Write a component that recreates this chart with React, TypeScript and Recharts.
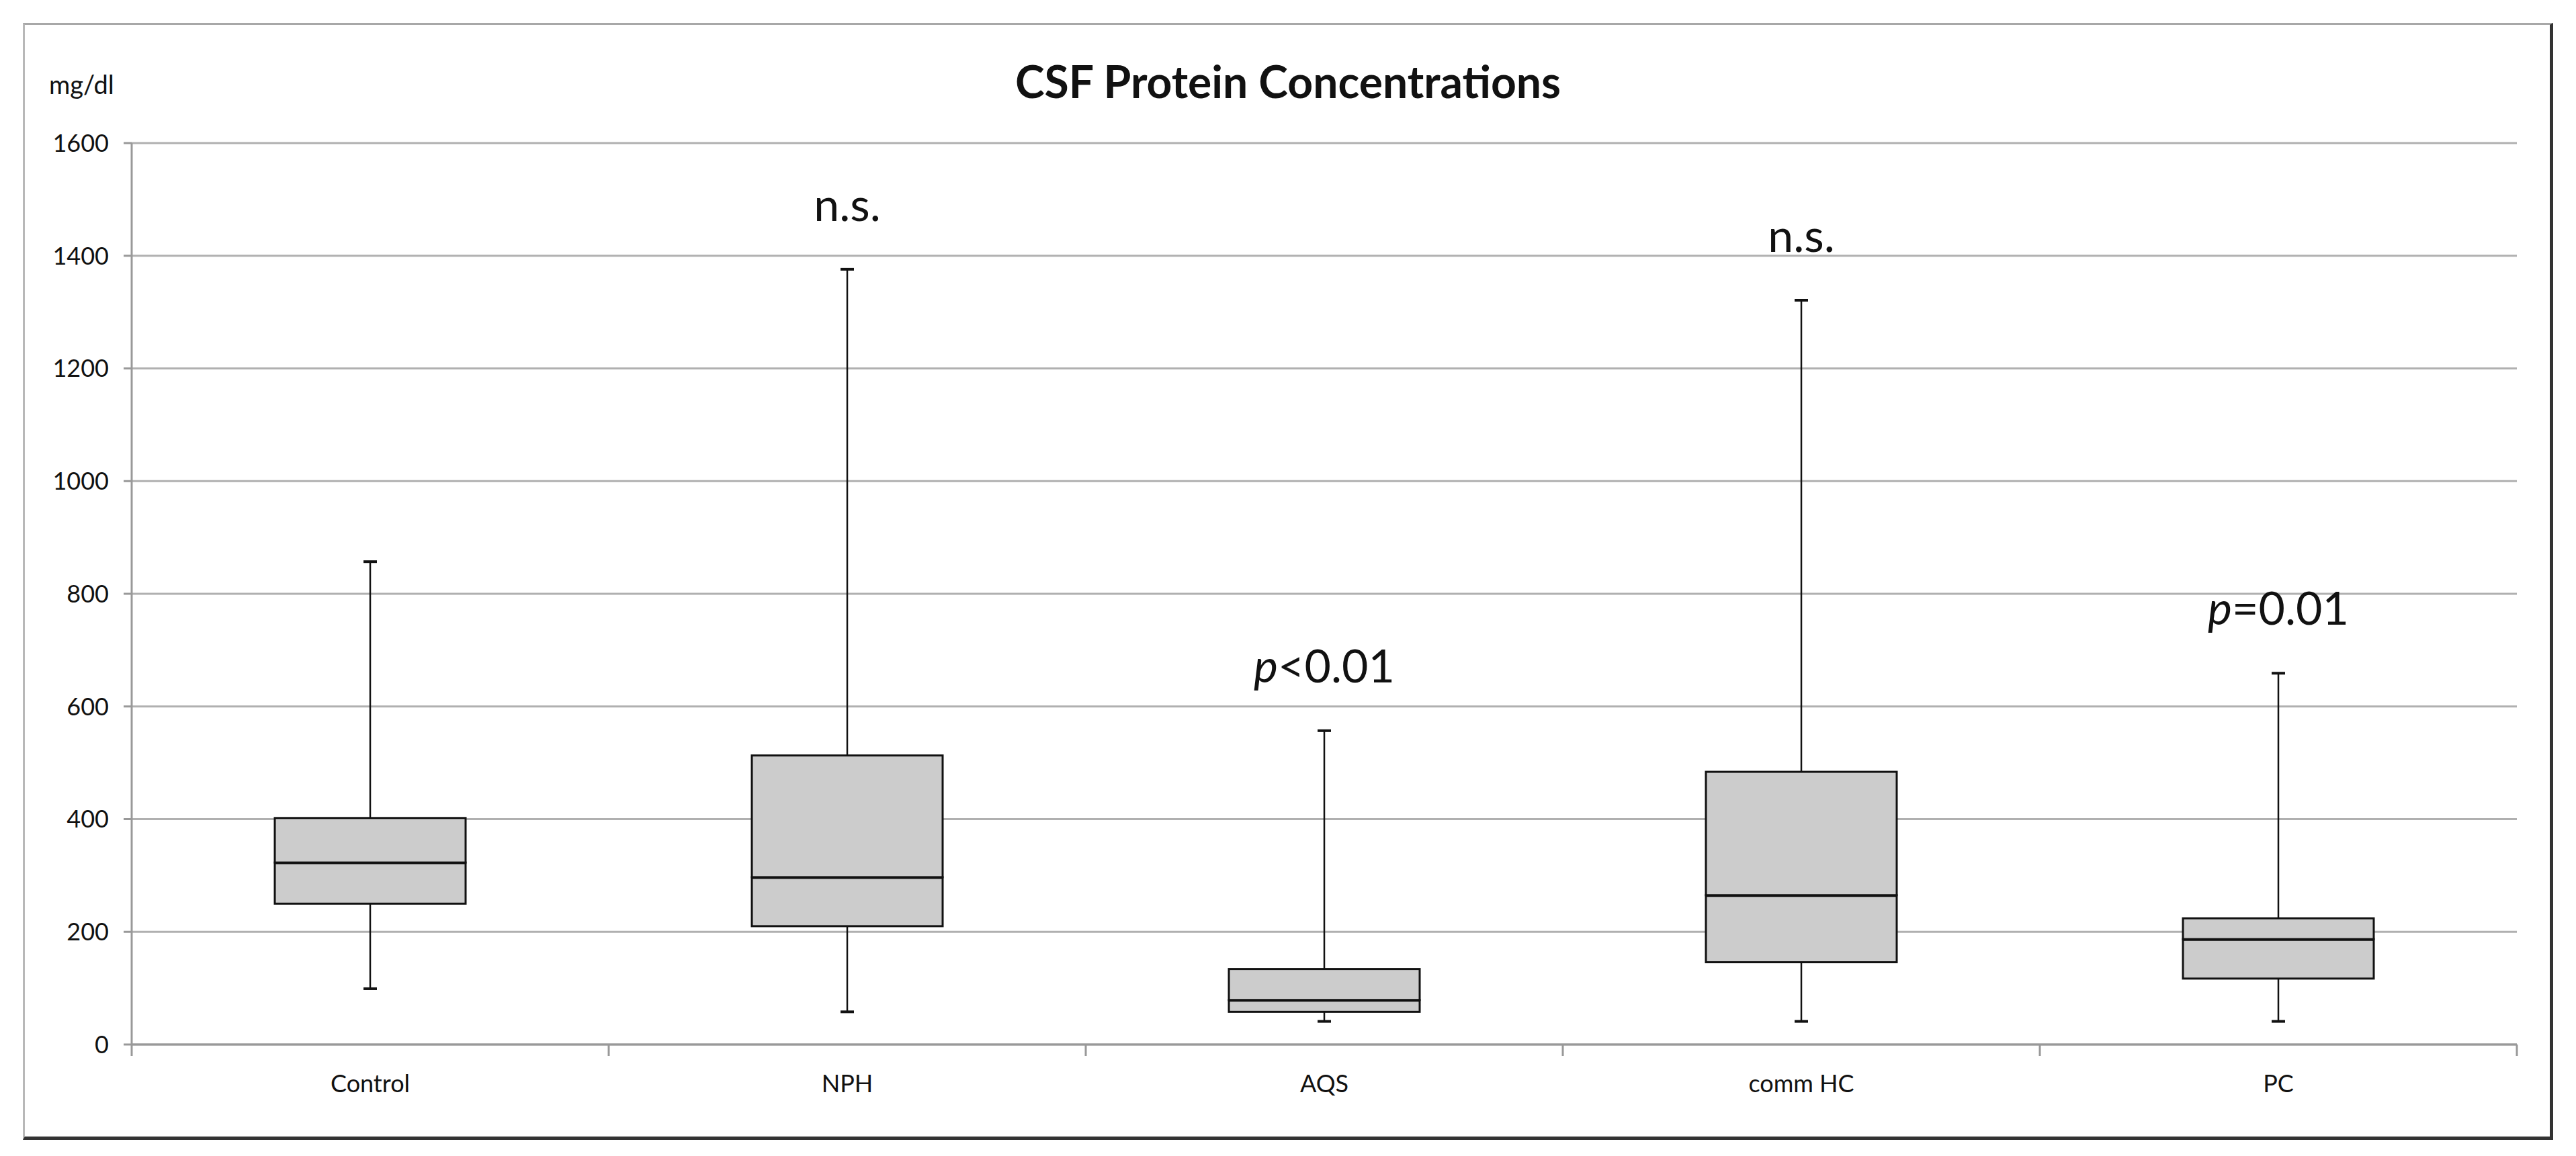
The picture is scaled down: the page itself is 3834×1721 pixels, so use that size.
import { ComposedChart, Bar, XAxis, YAxis, CartesianGrid, LabelList } from "recharts";

const categories = ["Control", "NPH", "AQS", "comm HC", "PC"];
const minimums = [99, 58, 41, 41, 41];
const lowerQuartiles = [250, 210, 58, 146, 117];
const medians = [323, 297, 79, 265, 187];
const upperQuartiles = [402, 513, 134, 484, 224];
const maximums = [857, 1376, 557, 1321, 659];
const annotations = ["", "n.s.", "p<0.01", "n.s.", "p=0.01"];
const yTicks = [0, 200, 400, 600, 800, 1000, 1200, 1400, 1600];

// stacked segments: invisible base, lower whisker, two box halves, upper whisker
const data = categories.map((name, i) => ({
  name,
  base: minimums[i],
  lowWhisker: lowerQuartiles[i] - minimums[i],
  lowBox: medians[i] - lowerQuartiles[i],
  highBox: upperQuartiles[i] - medians[i],
  highWhisker: maximums[i] - upperQuartiles[i],
  note: annotations[i],
}));

const W = 3834;
const H = 1721;
const MARGIN = { top: 213, right: 88, bottom: 66, left: 0 };
const Y_WIDTH = 196;
const X_TICK_SIZE = 17;
const X_TICK_MARGIN = 28;
const FONT = "Lato, 'Open Sans', sans-serif";
const CAP = 10;

const LowWhisker = (props: any) => {
  const { x, y, width, height } = props;
  const cx = x + width / 2;
  const bottom = y + height;
  return (
    <g stroke="#111" strokeWidth={2.5}>
      <line x1={cx} x2={cx} y1={y} y2={bottom} />
      <line x1={cx - CAP} x2={cx + CAP} y1={bottom} y2={bottom} strokeWidth={4} />
    </g>
  );
};

const HighWhisker = (props: any) => {
  const { x, y, width, height } = props;
  const cx = x + width / 2;
  return (
    <g stroke="#111" strokeWidth={2.5}>
      <line x1={cx} x2={cx} y1={y} y2={y + height} />
      <line x1={cx - CAP} x2={cx + CAP} y1={y} y2={y} strokeWidth={4} />
    </g>
  );
};

const LowBox = (props: any) => {
  const { x, y, width, height } = props;
  return (
    <g>
      <rect x={x} y={y} width={width} height={height} fill="#cccccc" stroke="#111" strokeWidth={3} />
      <line x1={x} x2={x + width} y1={y} y2={y} stroke="#111" strokeWidth={5} />
    </g>
  );
};

const HighBox = (props: any) => {
  const { x, y, width, height } = props;
  return <rect x={x} y={y} width={width} height={height} fill="#cccccc" stroke="#111" strokeWidth={3} />;
};

const NoteLabel = (props: any) => {
  const { x, y, width, index } = props;
  const text = annotations[index];
  if (!text) return null;
  const cx = x + width / 2;
  const italic = text.startsWith("p");
  return (
    <text x={cx} y={y - 72} textAnchor="middle" fontFamily={FONT} fontSize={68} fill="#111">
      {italic ? (
        <>
          <tspan fontStyle="italic">p</tspan>
          <tspan>{text.slice(1)}</tspan>
        </>
      ) : (
        text
      )}
    </text>
  );
};

const CategoryTick = (props: any) => {
  const { x, y, payload, index } = props;
  const band = (W - MARGIN.left - MARGIN.right - Y_WIDTH) / categories.length;
  const half = payload && payload.offset ? payload.offset : band / 2;
  const axisY = y - X_TICK_SIZE - X_TICK_MARGIN;
  return (
    <g>
      <line x1={x - half} x2={x - half} y1={axisY} y2={axisY + X_TICK_SIZE} stroke="#999" strokeWidth={3} />
      {index === categories.length - 1 && (
        <line x1={x + half} x2={x + half} y1={axisY} y2={axisY + X_TICK_SIZE} stroke="#999" strokeWidth={3} />
      )}
      <text x={x} y={y} dy="0.71em" textAnchor="middle" fontFamily={FONT} fontSize={36} fill="#111">
        {payload.value}
      </text>
    </g>
  );
};

export default function App() {
  return (
    <div style={{ position: "absolute", left: 0, top: 0, width: W, height: H, background: "#fff" }}>
      <div
        style={{
          position: "absolute",
          left: 34,
          top: 34,
          width: 3758,
          height: 1655,
          borderTop: "3px solid #a8a8a8",
          borderLeft: "3px solid #b8b8b8",
          borderRight: "5px solid #333",
          borderBottom: "5px solid #333",
        }}
      />
      <div
        style={{
          position: "absolute",
          left: 0,
          width: W,
          top: 88,
          textAlign: "center",
          fontFamily: FONT,
          fontWeight: 700,
          fontSize: 66,
          lineHeight: 1,
          color: "#111",
        }}
      >
        CSF Protein Concentrations
      </div>
      <div
        style={{
          position: "absolute",
          left: 73,
          top: 106,
          fontFamily: FONT,
          fontSize: 38,
          lineHeight: 1,
          color: "#111",
        }}
      >
        mg/dl
      </div>
      <div style={{ position: "absolute", left: 0, top: 0 }}>
        <ComposedChart width={W} height={H} data={data} margin={MARGIN}>
          <CartesianGrid vertical={false} stroke="#b0b0b0" strokeWidth={3} />
          <XAxis
            dataKey="name"
            axisLine={{ stroke: "#999", strokeWidth: 3 }}
            tickLine={false}
            tickSize={X_TICK_SIZE}
            tickMargin={X_TICK_MARGIN}
            height={100}
            interval={0}
            tick={<CategoryTick />}
          />
          <YAxis
            width={Y_WIDTH}
            domain={[0, 1600]}
            ticks={yTicks}
            interval={0}
            axisLine={{ stroke: "#999", strokeWidth: 3 }}
            tickLine={{ stroke: "#999", strokeWidth: 3 }}
            tickSize={12}
            tickMargin={22}
            tick={{ fontFamily: FONT, fontSize: 36, fill: "#111" }}
          />
          <Bar dataKey="base" stackId="box" barSize={284} fill="none" isAnimationActive={false} />
          <Bar dataKey="lowWhisker" stackId="box" barSize={284} shape={<LowWhisker />} isAnimationActive={false} />
          <Bar dataKey="lowBox" stackId="box" barSize={284} shape={<LowBox />} isAnimationActive={false} />
          <Bar dataKey="highBox" stackId="box" barSize={284} shape={<HighBox />} isAnimationActive={false} />
          <Bar dataKey="highWhisker" stackId="box" barSize={284} shape={<HighWhisker />} isAnimationActive={false}>
            <LabelList dataKey="note" content={<NoteLabel />} />
          </Bar>
        </ComposedChart>
      </div>
    </div>
  );
}
